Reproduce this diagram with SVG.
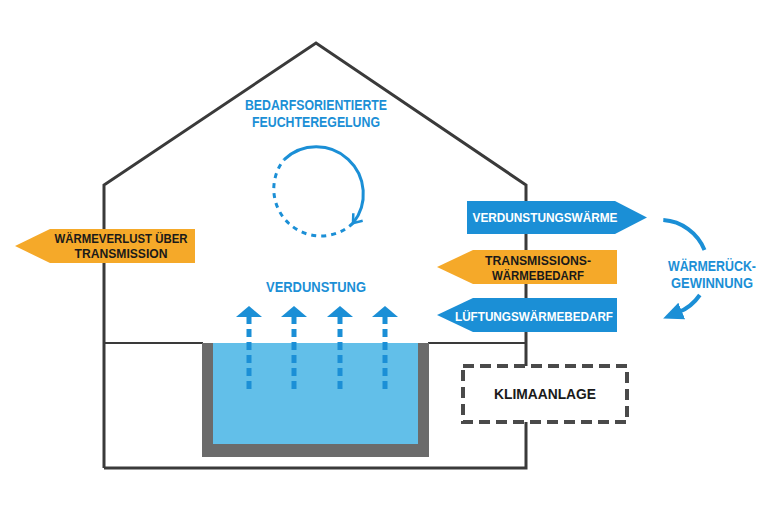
<svg xmlns="http://www.w3.org/2000/svg" width="768" height="512" viewBox="0 0 768 512">
<style>
.wall{fill:none;stroke:#3a3a3a;stroke-width:3;stroke-linejoin:miter}
.floor{fill:none;stroke:#3a3a3a;stroke-width:2}
.blue{fill:#1b8fd6}
.orange{fill:#f5a929}
.tb{font-family:"Liberation Sans",Arial,sans-serif;font-weight:bold;text-anchor:middle}
.tblue{fill:#1b8fd6}
.twhite{fill:#ffffff}
.tdark{fill:#1a1a1a}
.shaft{stroke:#1b8fd6;stroke-width:5;stroke-dasharray:8 5;fill:none}
</style>
<defs>
<marker id="chev" markerWidth="14" markerHeight="14" refX="10" refY="7" orient="auto" markerUnits="userSpaceOnUse">
<path d="M2,1 L10,7 L2,13" fill="none" stroke="#1b8fd6" stroke-width="2.5"/>
</marker>
<marker id="tri" markerWidth="22" markerHeight="22" refX="4" refY="11" orient="auto" markerUnits="userSpaceOnUse">
<path d="M0,2 L20,11 L0,20 Z" fill="#1b8fd6"/>
</marker>
</defs>
<rect width="768" height="512" fill="#ffffff"/>
<g id="house">
<polyline class="wall" points="104,468 104,185 316,43 526,185 526,468 104,468"/>
<line class="floor" x1="104" y1="343" x2="203" y2="343"/>
<line class="floor" x1="428" y1="343" x2="526" y2="343"/>
</g>
<g id="pool">
<rect x="202" y="343" width="227" height="114" fill="#6b6b6b"/>
<rect x="213" y="343" width="205" height="101" fill="#62bfe9"/>
</g>
<g id="feuchteregelung">
<text class="tb tblue" x="316" y="110" font-size="14" textLength="142" lengthAdjust="spacingAndGlyphs">BEDARFSORIENTIERTE</text>
<text class="tb tblue" x="316" y="127" font-size="14" textLength="128" lengthAdjust="spacingAndGlyphs">FEUCHTEREGELUNG</text>
<path d="M284.1,159.6 A47,47 0 0 1 353.0,223.2" fill="none" stroke="#1b8fd6" stroke-width="3" marker-end="url(#chev)"/>
<path d="M353.0,223.2 A47,47 0 0 1 284.1,159.6" fill="none" stroke="#1b8fd6" stroke-width="3" stroke-dasharray="5 5"/>
</g>
<g id="verdunstung">
<text class="tb tblue" x="316" y="292" font-size="14" textLength="100" lengthAdjust="spacingAndGlyphs">VERDUNSTUNG</text>
<g>
<line class="shaft" x1="249" y1="316" x2="249" y2="392"/>
<polygon class="blue" points="249,306 262,317 236,317"/>
<line class="shaft" x1="294" y1="316" x2="294" y2="392"/>
<polygon class="blue" points="294,306 307,317 281,317"/>
<line class="shaft" x1="340" y1="316" x2="340" y2="392"/>
<polygon class="blue" points="340,306 353,317 327,317"/>
<line class="shaft" x1="385" y1="316" x2="385" y2="392"/>
<polygon class="blue" points="385,306 398,317 372,317"/>
</g>
</g>
<g id="waermeverlust">
<polygon class="orange" points="15,246 50,229 195,229 195,263 50,263"/>
<text class="tb tdark" x="121" y="243" font-size="13" textLength="133" lengthAdjust="spacingAndGlyphs">WÄRMEVERLUST ÜBER</text>
<text class="tb tdark" x="121" y="258" font-size="13" textLength="93" lengthAdjust="spacingAndGlyphs">TRANSMISSION</text>
</g>
<g id="verdunstungswaerme">
<polygon class="blue" points="467,201 615,201 647,217.5 615,234 467,234"/>
<text class="tb twhite" x="545" y="222" font-size="13" textLength="145" lengthAdjust="spacingAndGlyphs">VERDUNSTUNGSWÄRME</text>
</g>
<g id="transmissionswaermebedarf">
<polygon class="orange" points="437,267 473,250 617,250 617,284 473,284"/>
<text class="tb tdark" x="538" y="265" font-size="13" textLength="106" lengthAdjust="spacingAndGlyphs">TRANSMISSIONS-</text>
<text class="tb tdark" x="538" y="280" font-size="13" textLength="92" lengthAdjust="spacingAndGlyphs">WÄRMEBEDARF</text>
</g>
<g id="lueftungswaermebedarf">
<polygon class="blue" points="437,315 473,298 617,298 617,332 473,332"/>
<text class="tb twhite" x="534" y="321" font-size="13" textLength="158" lengthAdjust="spacingAndGlyphs">LÜFTUNGSWÄRMEBEDARF</text>
</g>
<g id="waermerueckgewinnung">
<path d="M663.3,220.1 A48,48 0 0 1 704.5,250" fill="none" stroke="#1b8fd6" stroke-width="4"/>
<path d="M699.8,295 A48,48 0 0 1 678,312.5" fill="none" stroke="#1b8fd6" stroke-width="4" marker-end="url(#tri)"/>
<text class="tb tblue" x="712" y="271" font-size="14" textLength="88" lengthAdjust="spacingAndGlyphs">WÄRMERÜCK-</text>
<text class="tb tblue" x="712" y="288" font-size="14" textLength="82" lengthAdjust="spacingAndGlyphs">GEWINNUNG</text>
</g>
<g id="klimaanlage">
<rect x="463" y="366" width="164" height="56" fill="#ffffff" stroke="#4a4a4a" stroke-width="4" stroke-dasharray="11 6"/>
<text class="tb tdark" x="545" y="399" font-size="15" textLength="102" lengthAdjust="spacingAndGlyphs">KLIMAANLAGE</text>
</g>
</svg>
